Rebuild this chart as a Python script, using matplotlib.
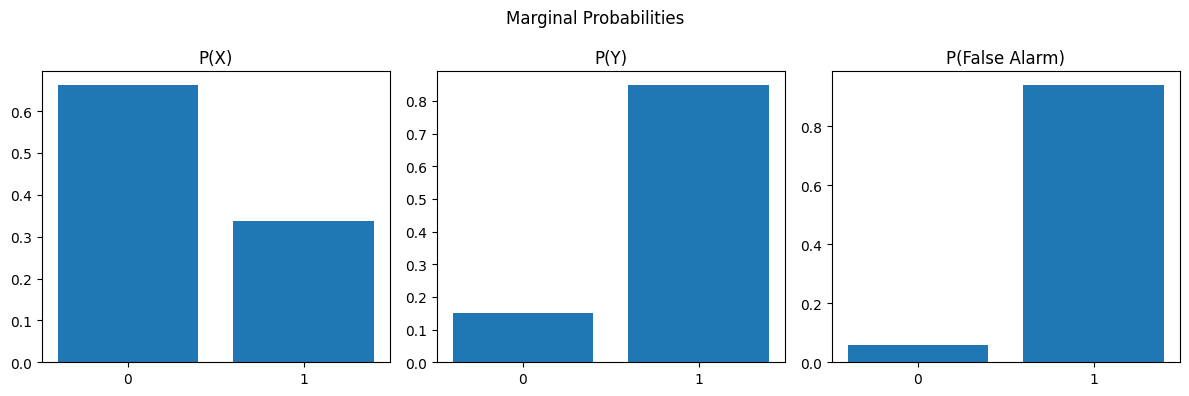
import matplotlib
matplotlib.use("Agg")
import matplotlib.pyplot as plt

# outcome labels
outcomes = [0, 1]

# marginal probabilities
p_x = [0.662, 0.338]
p_y = [0.152, 0.848]
p_false_alarm = [0.06, 0.94]

titles = ["P(X)", "P(Y)", "P(False Alarm)"]

fig, axes = plt.subplots(1, 3, figsize=(12, 4), dpi=100)
for ax, probs, title in zip(axes, [p_x, p_y, p_false_alarm], titles):
    ax.bar(outcomes, probs)
    ax.set_xticks(outcomes)
    ax.set_title(title)

fig.suptitle("Marginal Probabilities")
plt.tight_layout()
plt.savefig("out.png", bbox_inches="tight")
